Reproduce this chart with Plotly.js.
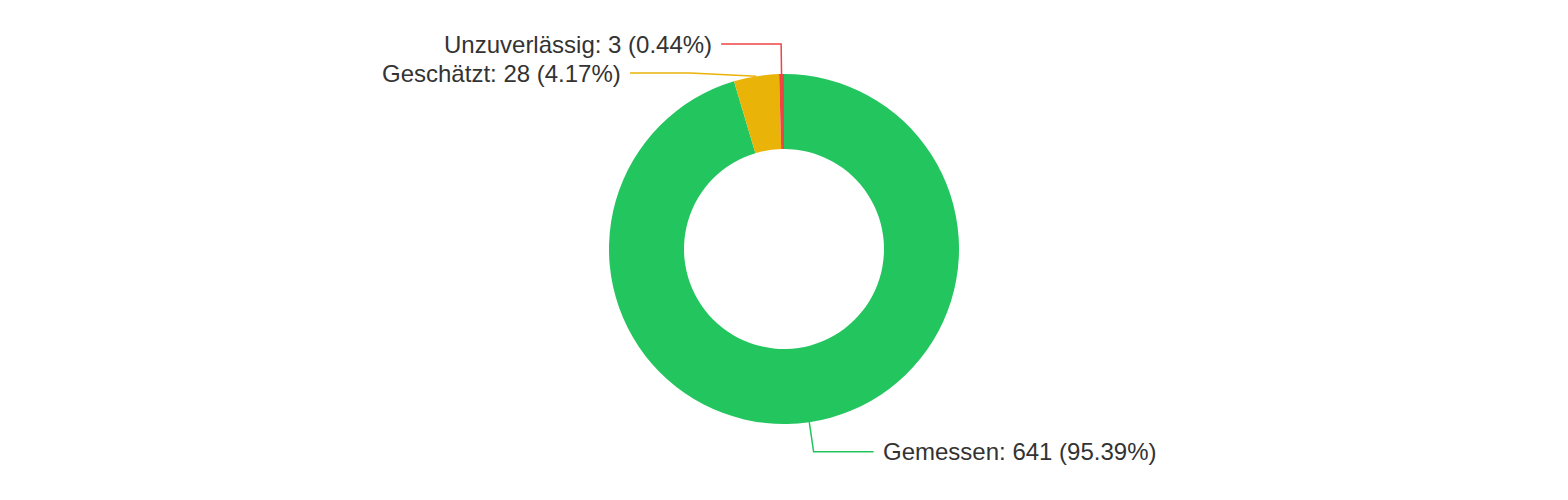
<!DOCTYPE html>
<html>
<head>
<meta charset="utf-8">
<script src="https://cdn.plot.ly/plotly-3.0.1.min.js"></script>
<style>html,body{margin:0;padding:0;background:#fff;}#chart{width:1568px;height:500px;}</style>
</head>
<body>
<div id="chart"></div>
<script>
const labels = ['Gemessen', 'Geschätzt', 'Unzuverlässig'];
const values = [641, 28, 3];
const colors = ['#22c55e', '#eab308', '#ef4444'];

// largest-remainder percentages (2 decimals, summing to 100)
function percents(vals, prec) {
  const total = vals.reduce((a, b) => a + b, 0);
  const digits = Math.pow(10, prec);
  const vote = vals.map(v => v / total * 100 * digits);
  const seats = vote.map(v => Math.floor(v));
  let current = seats.reduce((a, b) => a + b, 0);
  const target = 100 * digits;
  const rem = vote.map((v, i) => v - seats[i]);
  while (current < target) {
    let mx = -1, idx = 0;
    rem.forEach((r, i) => { if (r > mx) { mx = r; idx = i; } });
    seats[idx]++; rem[idx] = 0; current++;
  }
  return seats.map(s => (s / digits).toFixed(prec));
}
const pcts = percents(values, 2);
const texts = labels.map((l, i) => l + ': ' + values[i] + ' (' + pcts[i] + '%)');

const W = 1568, H = 500;
const cx = 784, cy = 249, r = 175, hole = 100 / 175;
const len1 = 30, len2 = 60, gap = 10, lineH = 29;
const R = r + len1;      // horizontal semi-axis for shifted labels
const RB = 198;          // vertical semi-axis for shifted labels

const total = values.reduce((a, b) => a + b, 0);
let acc = 0;
const items = values.map((v, i) => {
  const mid = (acc + v / 2) / total * 2 * Math.PI; acc += v;
  const sx = cx + r * Math.sin(mid), sy = cy - r * Math.cos(mid);
  const ex = cx + R * Math.sin(mid), ey = cy - R * Math.cos(mid);
  return {i, sx, sy, ex, ey, left: ex < cx};
});
// resolve vertical overlap per side
[true, false].forEach(side => {
  const list = items.filter(it => it.left === side).sort((a, b) => a.ey - b.ey);
  for (let k = 1; k < list.length; k++) {
    if (list[k].ey < list[k - 1].ey + lineH) {
      list[k].ey = list[k - 1].ey + lineH;
      const dy = list[k].ey - cy;
      const dx = R * Math.sqrt(Math.max(0, 1 - (dy * dy) / (RB * RB)));
      list[k].ex = side ? cx - dx : cx + dx;
    }
  }
});

const px = x => x / W, py = y => 1 - y / H;
const shapes = [], annotations = [];
items.forEach(it => {
  const dir = it.left ? -1 : 1;
  const hx = it.ex + dir * len2;
  shapes.push({
    type: 'path', xref: 'paper', yref: 'paper',
    path: 'M ' + px(it.sx) + ',' + py(it.sy) + ' L ' + px(it.ex) + ',' + py(it.ey) + ' L ' + px(hx) + ',' + py(it.ey),
    line: {color: colors[it.i], width: 1.5}
  });
  annotations.push({
    xref: 'paper', yref: 'paper', x: px(hx + dir * (gap - 2)), y: py(it.ey),
    xanchor: it.left ? 'right' : 'left', yanchor: 'middle',
    text: texts[it.i], showarrow: false, borderpad: 0,
    font: {family: 'Liberation Sans, Arial, sans-serif', size: 24, color: '#333333'}
  });
});

const trace = {
  type: 'pie', labels: labels, values: values, hole: hole,
  sort: false, direction: 'clockwise', rotation: 0,
  marker: {colors: colors, line: {width: 0}},
  textinfo: 'none', hoverinfo: 'label+value+percent',
  domain: {x: [(cx - r) / W, (cx + r) / W], y: [1 - (cy + r) / H, 1 - (cy - r) / H]},
  showlegend: false
};
Plotly.newPlot('chart', [trace], {
  width: W, height: H, margin: {l: 0, r: 0, t: 0, b: 0},
  paper_bgcolor: '#ffffff', showlegend: false,
  shapes: shapes, annotations: annotations
}, {displayModeBar: false, staticPlot: false});
</script>
</body>
</html>
